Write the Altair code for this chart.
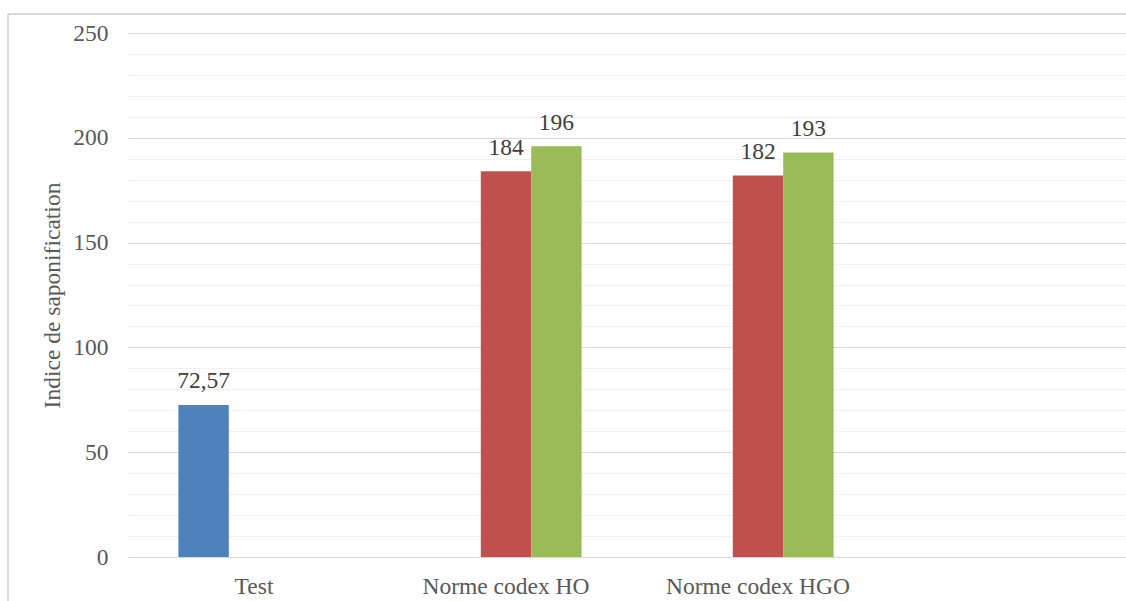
import altair as alt
import pandas as pd

# Saponification index: measured sample vs. Codex standard ranges
categories = ["Test", "Norme codex HO", "Norme codex HGO"]
axis_slots = categories + [" "]  # one empty slot on the right of the axis
series_names = ["Échantillon", "Minimum", "Maximum"]
series_colors = ["#4F81BD", "#C0504D", "#9BBB59"]

row_category = ["Test", "Norme codex HO", "Norme codex HO", "Norme codex HGO", "Norme codex HGO"]
row_series = ["Échantillon", "Minimum", "Maximum", "Minimum", "Maximum"]
row_value = [72.57, 184, 196, 182, 193]

y_ticks = list(range(0, 251, 10))

df = pd.DataFrame({
    "categorie": row_category,
    "serie": row_series,
    "valeur": row_value,
})
df["etiquette"] = [f"{v:g}".replace(".", ",") for v in row_value]

FONT = "Liberation Serif"
STEP = 252

x_enc = alt.X(
    "categorie:N",
    sort=axis_slots,
    scale=alt.Scale(domain=axis_slots, range=[0, STEP * len(axis_slots)],
                    paddingInner=0, paddingOuter=0),
    axis=alt.Axis(
        title=None, labelAngle=0, ticks=False, tickSize=0, domain=False,
        labelFont=FONT, labelFontSize=23.5, labelColor="#595959", labelLimit=0,
        labelBaseline="alphabetic", labelPadding=36,
    ),
)
xoff_enc = alt.XOffset(
    "serie:N",
    sort=series_names,
    scale=alt.Scale(domain=series_names, paddingInner=0, paddingOuter=1),
)
y_enc = alt.Y(
    "valeur:Q",
    scale=alt.Scale(domain=[0, 250], nice=False, zero=True),
    axis=alt.Axis(
        title="Indice de saponification",
        values=y_ticks,
        labelExpr="datum.value % 50 === 0 ? datum.label : ''",
        ticks=False, tickSize=0, domain=False,
        grid=True,
        gridColor={"condition": {"test": "datum.value % 50 === 0", "value": "#d9d9d9"},
                   "value": "#f0f0f0"},
        gridWidth=1,
        labelFont=FONT, labelFontSize=23.5, labelColor="#595959", labelPadding=20,
        titleFont=FONT, titleFontSize=23.5, titleFontWeight="normal", titleColor="#595959",
        titleBaseline="alphabetic", titleX=-69, titleY=262, titleAngle=-90,
    ),
)
color_enc = alt.Color(
    "serie:N",
    scale=alt.Scale(domain=series_names, range=series_colors),
    legend=None,
)

base = alt.Chart(df)

bars = base.mark_bar().encode(x=x_enc, xOffset=xoff_enc, y=y_enc, color=color_enc)

labels = base.mark_text(
    font=FONT, fontSize=23.5, color="#404040", baseline="alphabetic", dy=-16.5,
).encode(x=x_enc, xOffset=xoff_enc, y=y_enc, text="etiquette:N")

# light outer frame of the chart area
frame_left = alt.Chart(df).mark_rule(color="#d9d9d9", strokeWidth=1.5).encode(
    x=alt.value(-120), y=alt.value(-19), y2=alt.value(600)
)
frame_top = alt.Chart(df).mark_rule(color="#d9d9d9", strokeWidth=1.5).encode(
    x=alt.value(-120), x2=alt.value(1100), y=alt.value(-19)
)

chart = alt.layer(frame_left, frame_top, bars, labels).properties(
    width=998,
    height=524,
    autosize=alt.AutoSizeParams(type="none"),
    padding={"left": 128, "top": 33, "right": 0, "bottom": 44},
    background="white",
).configure_view(stroke=None)

chart.save("out.html", embed_options={"renderer": "svg", "actions": False})
